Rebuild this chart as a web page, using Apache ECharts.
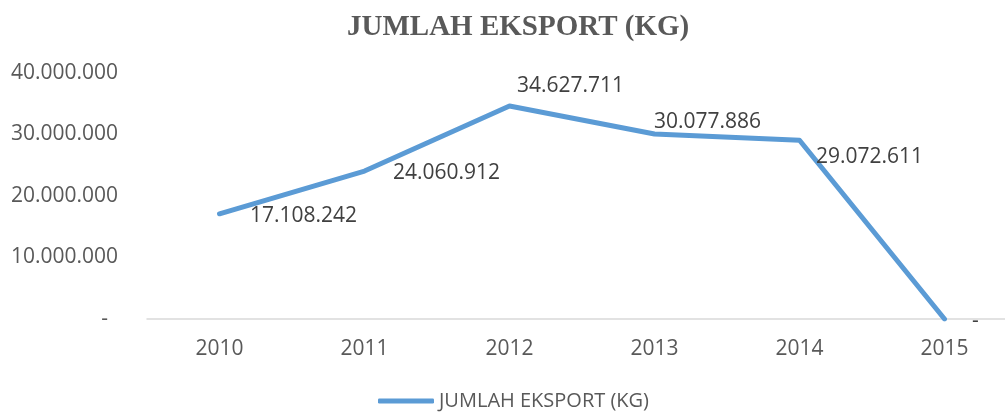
<!DOCTYPE html>
<html>
<head>
<meta charset="utf-8">
<title>JUMLAH EKSPORT (KG)</title>
<script src="https://cdn.jsdelivr.net/npm/echarts@6/dist/echarts.min.js"></script>
<style>
  html, body { margin: 0; padding: 0; background: #fff; }
  #chart { width: 1005px; height: 414px; }
</style>
</head>
<body>
<div id="chart"></div>
<script>
  // data
  const years = ['2010', '2011', '2012', '2013', '2014', '2015']
  const ekspor = [17108242, 24060912, 34627711, 30077886, 29072611, 0]
  const yTicks = [0, 10000000, 20000000, 30000000, 40000000]
  const seriesName = 'JUMLAH EKSPORT (KG)'

  // label offsets (px) from each point, as placed in the original
  const labelOffsets = [[84, 2], [82, 2], [61, -20], [53, -12], [70, 17], [31, 2]]

  const fontFam = '"Open Sans", "Noto Sans", sans-serif'

  // 34627711 -> 34.627.711, 0 -> -
  function fmt(v) {
    if (!v) return '-'
    return String(v).replace(/\B(?=(\d{3})+(?!\d))/g, '.')
  }

  // the original plot runs past the right edge of the picture:
  // each year gets a 145px band starting at x=147, cut off at the canvas edge
  const bandPx = 145
  const gridLeft = 147
  const xMax = -0.5 + (1005 - gridLeft) / bandPx

  let myChart = echarts.init(document.getElementById('chart'))

  let option = {
    animation: false,
    title: {
      text: seriesName,
      left: 342,
      top: 8,
      textStyle: {
        fontFamily: '"Liberation Serif", "Times New Roman", serif',
        fontWeight: 'bold',
        fontSize: 29,
        color: '#595959'
      }
    },
    legend: {
      left: 378,
      top: 391,
      padding: 0,
      itemWidth: 56,
      itemHeight: 5,
      itemGap: 4,
      icon: 'roundRect',
      data: [seriesName],
      textStyle: {
        fontFamily: fontFam,
        fontSize: 20,
        color: '#595959'
      }
    },
    grid: {
      left: gridLeft,
      right: 0,
      top: 73,
      bottom: 95,
      containLabel: false
    },
    xAxis: {
      type: 'value',
      min: -0.5,
      max: xMax,
      axisLine: { show: true, onZero: false, lineStyle: { color: '#D9D9D9', width: 1.5 } },
      axisTick: { show: false },
      splitLine: { show: false },
      axisLabel: {
        margin: 20,
        fontFamily: fontFam,
        fontSize: 21,
        color: '#595959',
        customValues: years.map((y, i) => i),
        formatter(v) {
          return years[Math.round(v)] || ''
        }
      }
    },
    yAxis: {
      type: 'value',
      min: yTicks[0],
      max: yTicks[yTicks.length - 1],
      interval: yTicks[1] - yTicks[0],
      axisLine: { show: false },
      axisTick: { show: false },
      splitLine: { show: false },
      axisLabel: {
        margin: 29,
        fontFamily: fontFam,
        fontSize: 21,
        color: '#595959',
        formatter(v) {
          return v === 0 ? '{d|-}' : fmt(v)
        },
        rich: {
          d: {
            fontFamily: fontFam,
            fontSize: 21,
            color: '#595959',
            padding: [0, 10, 0, 0]
          }
        }
      }
    },
    series: [
      {
        name: seriesName,
        type: 'line',
        data: ekspor.map((v, i) => ({
          value: [i, v],
          label: { offset: labelOffsets[i] }
        })),
        symbol: 'circle',
        symbolSize: 2,
        color: '#5B9BD5',
        lineStyle: { width: 5, color: '#5B9BD5', cap: 'round', join: 'round' },
        label: {
          show: true,
          position: 'inside',
          align: 'center',
          verticalAlign: 'middle',
          fontFamily: fontFam,
          fontSize: 21,
          color: '#404040',
          formatter(p) {
            return fmt(p.value[1])
          }
        }
      }
    ]
  }

  myChart.setOption(option)
</script>
</body>
</html>
